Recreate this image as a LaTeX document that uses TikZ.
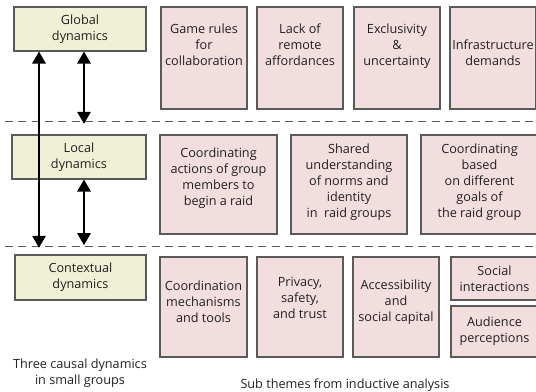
\documentclass[tikz,border=0pt]{standalone}
\usepackage{fontspec}
\setmainfont{Open Sans}
\usetikzlibrary{arrows.meta}
\definecolor{dynfill}{HTML}{F0F0D6}
\definecolor{subfill}{HTML}{F2DEDF}
\definecolor{edgegray}{HTML}{5A5A5A}
\definecolor{inkgray}{HTML}{231F20}
\tikzset{
  dynbox/.style={draw=edgegray, fill=dynfill, line width=0.8pt, align=center,
    inner sep=0pt, text=inkgray, font=\fontsize{9.5}{12}\selectfont},
  subbox/.style={draw=edgegray, fill=subfill, line width=0.8pt, align=center,
    inner sep=0pt, text=inkgray, font=\fontsize{9.5}{12}\selectfont},
  lift/.style={text depth=#1},
  dblarrow/.style={{Triangle[width=10pt,length=9pt]}-{Triangle[width=10pt,length=9pt]}, line width=1.5pt},
  sepline/.style={draw=edgegray, line width=0.7pt, dash pattern=on 6pt off 4pt},
  caption/.style={align=center, text=inkgray, font=\fontsize{9.5}{12}\selectfont}
}
\begin{document}
\begin{tikzpicture}[x=0.75pt, y=-0.75pt]
  \useasboundingbox (0,0) rectangle (536,392);
  % separators
  \coordinate (s1a) at (5,121);
  \coordinate (s1b) at (540,121);
  \coordinate (s2a) at (5,246);
  \coordinate (s2b) at (540,246);
  \draw[sepline] (s1a) -- (s1b);
  \draw[sepline] (s2a) -- (s2b);
  % three dynamics
  \node[dynbox, minimum width=132*0.75pt, minimum height=44*0.75pt] (glob) at (80,29) {Global\\dynamics};
  \node[dynbox, minimum width=134*0.75pt, minimum height=44*0.75pt] (loc) at (79,157) {Local\\dynamics};
  \node[dynbox, minimum width=131*0.75pt, minimum height=45*0.75pt] (ctx) at (80.5,277.5) {Contextual\\dynamics};
  % sub themes, global
  \node[subbox, lift=20.5pt, minimum width=86*0.75pt, minimum height=102*0.75pt] (g1) at (204,58) {Game rules\\for\\collaboration};
  \node[subbox, lift=20.5pt, minimum width=86*0.75pt, minimum height=102*0.75pt] (g2) at (300,58) {Lack of\\remote\\affordances};
  \node[subbox, lift=20.5pt, minimum width=86*0.75pt, minimum height=102*0.75pt] (g3) at (397,58) {Exclusivity\\\&\\uncertainty};
  \node[subbox, lift=7.75pt, minimum width=86*0.75pt, minimum height=102*0.75pt] (g4) at (493,58) {Infrastructure\\demands};
  % sub themes, local
  \node[subbox, lift=12.25pt, minimum width=117*0.75pt, minimum height=99*0.75pt] (l1) at (218.5,184.5) {Coordinating\\actions of group\\members to\\begin a raid};
  \node[subbox, lift=6.25pt, minimum width=116*0.75pt, minimum height=99*0.75pt] (l2) at (349,184.5) {Shared\\understanding\\of norms and\\identity\\in\ \ raid groups};
  \node[subbox, lift=6.25pt, minimum width=117*0.75pt, minimum height=99*0.75pt] (l3) at (479.5,184.5) {Coordinating\\based\\on different\\goals of\\the raid group};
  % sub themes, contextual
  \node[subbox, lift=8.5pt, minimum width=87*0.75pt, minimum height=100*0.75pt] (c1) at (203.5,307) {Coordination\\mechanisms\\and tools};
  \node[subbox, lift=13pt, minimum width=86*0.75pt, minimum height=100*0.75pt] (c2) at (300,307) {Privacy,\\safety,\\and trust};
  \node[subbox, lift=10pt, minimum width=86*0.75pt, minimum height=100*0.75pt] (c3) at (396,307) {Accessibility\\and\\social capital};
  \node[subbox, minimum width=87*0.75pt, minimum height=43*0.75pt] (c4) at (494.5,278.5) {Social\\interactions};
  \node[subbox, minimum width=87*0.75pt, minimum height=51*0.75pt] (c5) at (494.5,331.5) {Audience\\perceptions};
  % arrows
  \coordinate (xa) at (39,0);
  \coordinate (xb) at (84,0);
  \draw[dblarrow, shorten >=5pt] (glob.south -| xa) -- (ctx.north -| xa);
  \draw[dblarrow, shorten >=8pt] (glob.south -| xb) -- (loc.north -| xb);
  \draw[dblarrow, shorten >=7pt] (loc.south -| xb) -- (ctx.north -| xb);
  % captions
  \node[caption] (capl) at (80,373) {Three causal dynamics\\in small groups};
  \node[caption] (capr) at (345,385) {Sub themes from inductive analysis};
\end{tikzpicture}
\end{document}
